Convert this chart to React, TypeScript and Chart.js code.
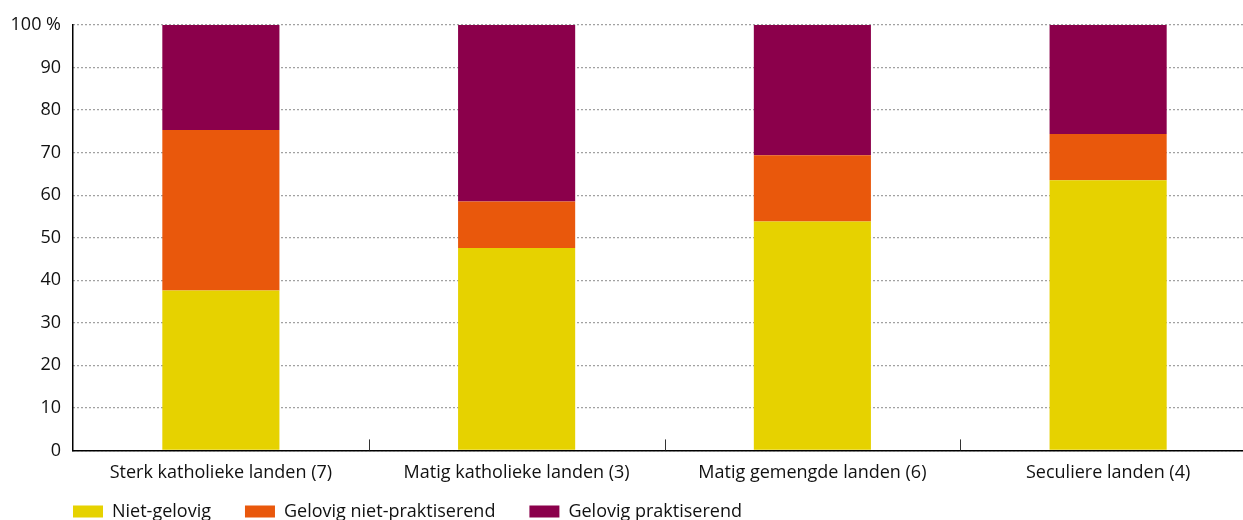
import React, { useEffect, useRef } from "react";
import { Chart, registerables } from "chart.js";

Chart.register(...registerables);

const categories = [
  "Sterk katholieke landen (7)",
  "Matig katholieke landen (3)",
  "Matig gemengde landen (6)",
  "Seculiere landen (4)",
];
const nietGelovig = [37.6, 47.6, 53.8, 63.5];
const gelovigNietPraktiserend = [37.7, 10.9, 15.6, 10.9];
const gelovigPraktiserend = [24.7, 41.5, 30.6, 25.6];
const yTicks = [0, 10, 20, 30, 40, 50, 60, 70, 80, 90, 100];

const FONT = "'Open Sans'";
const FONT_SIZE = 18;

const categoryTicks = {
  id: "categoryTicks",
  afterDatasetsDraw(chart: any) {
    const x = chart.scales.x;
    const ctx = chart.ctx;
    const bottom = chart.chartArea.bottom;
    ctx.save();
    ctx.strokeStyle = "#333";
    ctx.lineWidth = 1;
    for (let i = 1; i < categories.length; i++) {
      const px = Math.round((x.getPixelForValue(i - 1) + x.getPixelForValue(i)) / 2) + 0.5;
      ctx.beginPath();
      ctx.moveTo(px, bottom - 11);
      ctx.lineTo(px, bottom);
      ctx.stroke();
    }
    ctx.restore();
  },
};

// Align the legend with the plot's left edge and place it just under the axis labels
const legendPlacement = {
  id: "legendPlacement",
  beforeDraw(chart: any) {
    const lg = chart.legend;
    if (!lg) return;
    const pad = lg.options.labels.padding;
    lg.left = chart.chartArea.left - pad;
    lg.top = chart.chartArea.bottom + 61 - pad - FONT_SIZE / 2;
  },
};

export default function App() {
  const ref = useRef<HTMLCanvasElement>(null);
  useEffect(() => {
    if (!ref.current) return;
    const chart = new Chart(ref.current, {
      type: "bar",
      data: {
        labels: categories,
        datasets: [
          { label: "Niet-gelovig", data: nietGelovig, backgroundColor: "#E6D200" },
          { label: "Gelovig niet-praktiserend", data: gelovigNietPraktiserend, backgroundColor: "#E9580C" },
          { label: "Gelovig praktiserend", data: gelovigPraktiserend, backgroundColor: "#8B004B" },
        ],
      },
      options: {
        animation: false,
        responsive: false,
        maintainAspectRatio: false,
        layout: { padding: { left: 0, top: 25, right: 6, bottom: 0 } },
        datasets: { bar: { categoryPercentage: 1, barPercentage: 0.396, borderWidth: 0 } },
        plugins: {
          tooltip: { enabled: false },
          legend: {
            position: "bottom",
            align: "start",
            labels: {
              boxWidth: 30,
              boxHeight: 12,
              padding: 34,
              color: "#111",
              font: { family: FONT, size: FONT_SIZE },
            },
          },
        },
        scales: {
          x: {
            stacked: true,
            z: 1,
            grid: { display: false, drawTicks: false },
            border: { display: true, color: "#000", width: 1.5 },
            ticks: { color: "#111", padding: 12, font: { family: FONT, size: FONT_SIZE } },
          },
          y: {
            stacked: true,
            min: 0,
            max: 100,
            afterBuildTicks(scale: any) {
              scale.ticks = yTicks.map((v) => ({ value: v }));
            },
            afterFit(scale: any) {
              scale.width = 73;
            },
            grid: {
              color: "#444",
              lineWidth: 1.2,
              drawTicks: false,
            },
            border: { display: true, color: "#000", width: 1.5, dash: [1, 3] } as any,
            ticks: {
              color: "#111",
              padding: 12,
              font: { family: FONT, size: FONT_SIZE },
              callback: (v: any) => (v === 100 ? "100 %" : String(v)),
            },
          },
        },
      },
      plugins: [categoryTicks, legendPlacement],
    });
    return () => chart.destroy();
  }, []);
  return (
    <div
      style={{
        position: "fixed",
        left: 0,
        top: 0,
        width: 1243,
        height: 520,
        overflow: "hidden",
        background: "#fff",
      }}
    >
      <canvas ref={ref} width={1262} height={558} style={{ width: 1262, height: 558, display: "block" }} />
    </div>
  );
}
